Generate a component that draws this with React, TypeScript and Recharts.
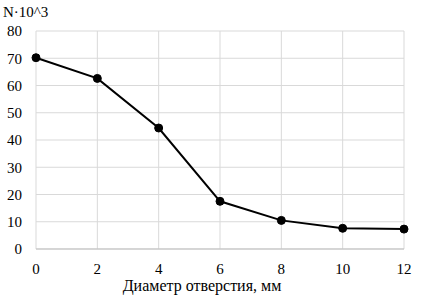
import React from 'react';
import { LineChart, Line, XAxis, YAxis, CartesianGrid, Label } from 'recharts';

const diameters = [0, 2, 4, 6, 8, 10, 12];
const cycles = [70.2, 62.6, 44.4, 17.5, 10.5, 7.6, 7.3];
const xTicks = [0, 2, 4, 6, 8, 10, 12];
const yTicks = [0, 10, 20, 30, 40, 50, 60, 70, 80];
const xTitle = 'Диаметр отверстия, мм';
const yTitle = 'N·10^3';

const data = diameters.map((d, i) => ({ d, n: cycles[i] }));

const FONT = 'Liberation Serif';

export default function App() {
  return (
    <div style={{ position: 'absolute', left: 0, top: 0, width: 425, height: 296, background: '#fff', fontFamily: FONT }}>
      <LineChart width={425} height={296} data={data} margin={{ top: 31, right: 21, bottom: 17, left: 0 }} style={{ fontFamily: FONT }}>
        <CartesianGrid stroke="#d9d9d9" strokeWidth={1} />
        <XAxis
          dataKey="d"
          type="number"
          domain={[0, 12]}
          ticks={xTicks}
          tickLine={false}
          axisLine={{ stroke: '#bfbfbf' }}
          tickMargin={8}
          tick={{ fill: '#000', fontSize: 15, fontFamily: FONT }}
          height={30}
          interval={0}
        >
          <Label
            content={() => (
              <text x={202} y={291} textAnchor="middle" fill="#000" fontSize={16} fontFamily={FONT}>
                {xTitle}
              </text>
            )}
          />
        </XAxis>
        <YAxis
          type="number"
          domain={[0, 80]}
          ticks={yTicks}
          tickLine={false}
          axisLine={false}
          width={36}
          tickMargin={8}
          tick={{ fill: '#000', fontSize: 15, fontFamily: FONT }}
          interval={0}
        >
          <Label
            content={() => (
              <text x={3} y={17} fill="#000" fontSize={15} fontFamily={FONT}>
                {yTitle}
              </text>
            )}
          />
        </YAxis>
        <Line
          type="linear"
          dataKey="n"
          stroke="#000"
          strokeWidth={2}
          dot={{ r: 4, fill: '#000', stroke: '#000', strokeWidth: 1 }}
          isAnimationActive={false}
        />
      </LineChart>
    </div>
  );
}
